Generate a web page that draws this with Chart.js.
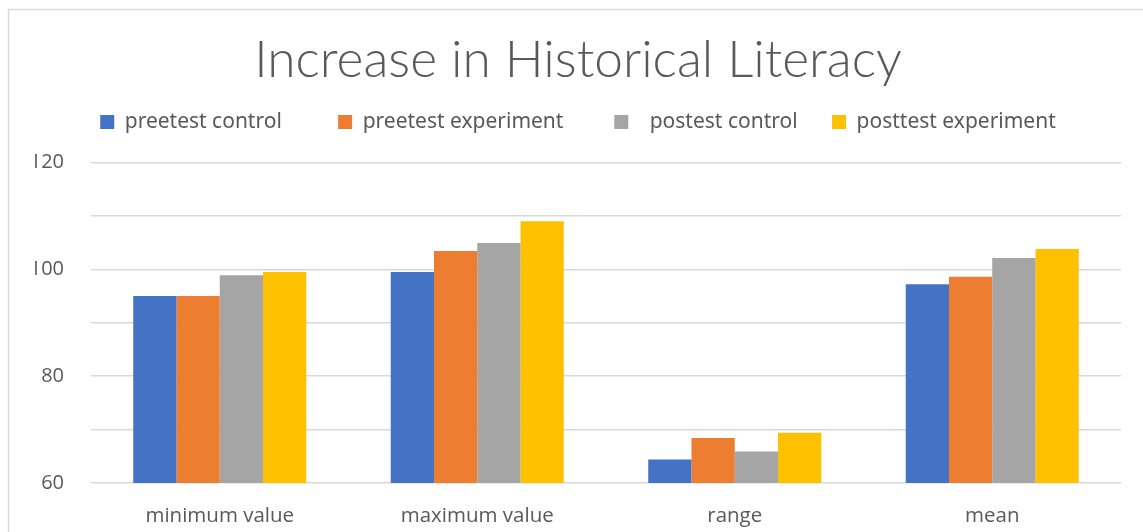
<!DOCTYPE html>
<html><head><meta charset="utf-8">
<script src="https://cdn.jsdelivr.net/npm/chart.js@4.4.1/dist/chart.umd.min.js"></script>
<style>html,body{margin:0;padding:0;background:#fff;overflow:hidden}#wrap{position:relative;width:1143px;height:532px}</style>
</head><body><div id="wrap"><canvas id="c" width="1143" height="532"></canvas></div>
<script>
const categories = ['minimum value', 'maximum value', 'range', 'mean'];
const seriesNames = ['preetest control     ', 'preetest experiment    ', '  postest control ', 'posttest experiment'];
const preetestControl = [95.0, 99.5, 64.4, 97.2];
const preetestExperiment = [95.0, 103.4, 68.4, 98.6];
const postestControl = [98.9, 104.9, 65.9, 102.1];
const posttestExperiment = [99.5, 109.0, 69.4, 103.8];
const yLabelValues = [60, 80, 100, 120];
const seriesColors = ['#4472C4', '#ED7D31', '#A5A5A5', '#FFC000'];

const seriesValues = [preetestControl, preetestExperiment, postestControl, posttestExperiment];

const framePlugin = {
  id: 'frame',
  beforeDraw(chart) {
    const ctx = chart.ctx;
    ctx.save();
    ctx.fillStyle = '#ffffff';
    ctx.fillRect(0, 0, chart.width, chart.height);
    ctx.strokeStyle = '#d9d9d9';
    ctx.lineWidth = 1.5;
    ctx.beginPath();
    ctx.moveTo(8.5, chart.height);
    ctx.lineTo(8.5, 9.5);
    ctx.lineTo(chart.width, 9.5);
    ctx.stroke();
    ctx.restore();
  }
};

const legendGap = {
  id: 'legendGap',
  beforeInit(chart) {
    const lg = chart.legend;
    if (!lg) return;
    const origFit = lg.fit;
    lg.fit = function () {
      origFit.call(this);
      this.height += 20;
    };
  }
};

new Chart(document.getElementById('c'), {
  type: 'bar',
  data: {
    labels: categories,
    datasets: seriesNames.map((name, i) => ({
      label: name,
      data: seriesValues[i],
      backgroundColor: seriesColors[i],
      borderWidth: 0,
      categoryPercentage: 0.672,
      barPercentage: 1.0
    }))
  },
  options: {
    responsive: false,
    animation: false,
    devicePixelRatio: 1,
    layout: { padding: { left: 35, right: 22, top: 0, bottom: 0 } },
    plugins: {
      title: {
        display: true,
        text: 'Increase in Historical Literacy',
        color: '#595959',
        font: { family: "Lato, 'Noto Sans', sans-serif", size: 51.5, weight: 300, lineHeight: 0.8 },
        padding: { top: 39.4, bottom: 1.8 }
      },
      legend: {
        position: 'top',
        labels: {
          color: '#595959',
          font: { family: "'Noto Sans', sans-serif", size: 21 },
          boxWidth: 14,
          boxHeight: 14,
          padding: 29
        }
      },
      tooltip: { enabled: false }
    },
    scales: {
      x: {
        grid: { display: false, drawTicks: false },
        border: { display: false },
        ticks: { color: '#595959', font: { family: "'Open Sans', sans-serif", size: 20.5 }, padding: 21 },
        afterFit(s) { s.height = 49; }
      },
      y: {
        min: 60, max: 120,
        grid: { color: '#d9d9d9', lineWidth: 1.5, drawTicks: false },
        border: { display: false },
        ticks: {
          stepSize: 10,
          color: '#595959',
          font: { family: "'Open Sans', sans-serif", size: 20 },
          padding: 27,
          callback: (v) => yLabelValues.includes(v) ? String(v) : ''
        },
        afterFit(s) { s.width = 56; }
      }
    }
  },
  plugins: [framePlugin, legendGap]
});
</script>
</body></html>
